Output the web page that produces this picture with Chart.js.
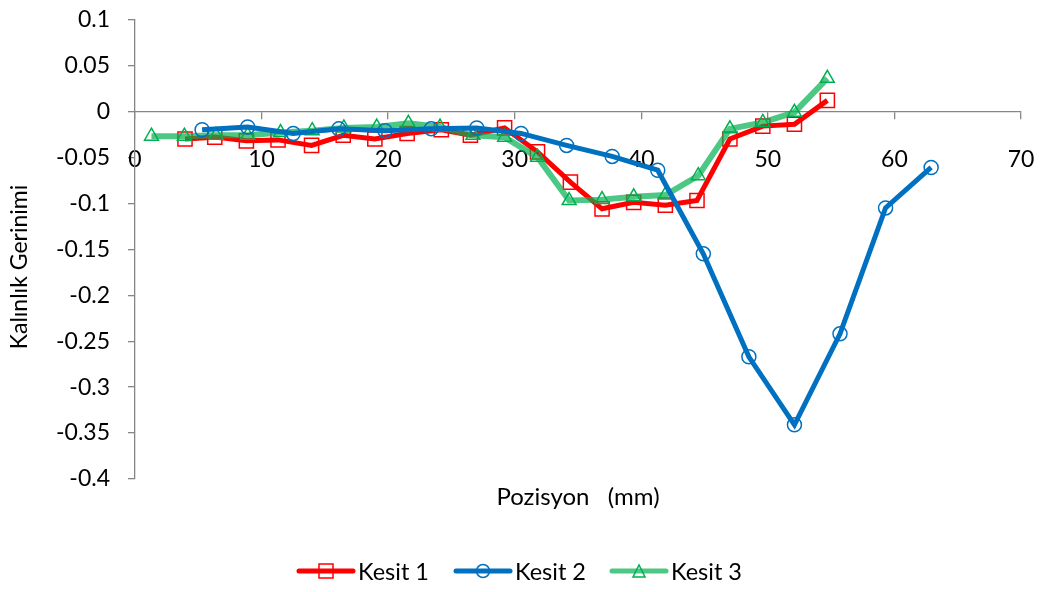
<!DOCTYPE html>
<html>
<head>
<meta charset="utf-8">
<script src="https://cdn.jsdelivr.net/npm/chart.js@4.4.1/dist/chart.umd.min.js"></script>
<style>
  html, body { margin: 0; padding: 0; background: #fff; }
  #wrap { width: 1043px; height: 592px; position: relative; }
</style>
</head>
<body>
<div id="wrap"><canvas id="diagramm" width="1043" height="592"></canvas></div>
<script>
// Kesit 1 (rot, Quadrate)
const kesit1X = [3.95, 6.3, 8.8, 11.3, 13.95, 16.45, 18.95, 21.5, 24.2, 26.5, 29.2, 31.8, 34.4, 36.9, 39.4, 41.9, 44.4, 47.0, 49.6, 52.1, 54.7];
const kesit1Y = [-0.030, -0.028, -0.032, -0.031, -0.037, -0.026, -0.030, -0.024, -0.020, -0.026, -0.018, -0.044, -0.077, -0.106, -0.099, -0.102, -0.097, -0.030, -0.016, -0.014, 0.012];

// Kesit 2 (blau, Kreise)
const kesit2X = [5.3, 8.9, 12.5, 16.1, 19.75, 23.4, 27.0, 30.5, 34.1, 37.7, 41.3, 44.9, 48.5, 52.1, 55.7, 59.3, 62.9];
const kesit2Y = [-0.020, -0.017, -0.024, -0.019, -0.021, -0.019, -0.018, -0.024, -0.037, -0.049, -0.064, -0.155, -0.267, -0.341, -0.242, -0.105, -0.061];

// Kesit 3 (grün, Dreiecke)
const kesit3X = [1.3, 3.9, 6.4, 8.9, 11.5, 14.0, 16.5, 19.1, 21.6, 24.1, 26.7, 29.2, 31.8, 34.3, 36.9, 39.4, 41.9, 44.5, 47.0, 49.6, 52.1, 54.7];
const kesit3Y = [-0.027, -0.027, -0.026, -0.026, -0.023, -0.021, -0.018, -0.017, -0.013, -0.017, -0.026, -0.028, -0.050, -0.097, -0.096, -0.093, -0.091, -0.070, -0.019, -0.012, -0.001, 0.036];

const seriesNames = ["Kesit 1", "Kesit 2", "Kesit 3"];
const xTitle = "Pozisyon   (mm)";
const yTitle = "Kalınlık Gerinimi";

const fontFam = "Lato, 'Open Sans', sans-serif";
const axisGrey = '#868686';

function toPoints(xs, ys) {
    return xs.map((x, i) => ({ x: x, y: ys[i] }));
}

// Achsentitel und Legende selbst zeichnen
const extras = {
    id: 'extras',
    afterDraw(chart) {
        const ctx = chart.ctx;
        const area = chart.chartArea;
        ctx.save();
        ctx.fillStyle = '#000';
        ctx.font = '24px ' + fontFam;
        ctx.textAlign = 'center';
        ctx.textBaseline = 'middle';
        ctx.fillText(xTitle, (area.left + area.right) / 2, 497);

        ctx.save();
        ctx.translate(20, 267);
        ctx.rotate(-Math.PI / 2);
        ctx.font = '23px ' + fontFam;
        ctx.fillText(yTitle, 0, 0);
        ctx.restore();

        // Legende
        const legY = 571;
        const items = [
            { x0: 299, col: '#ff0000', mark: 'rect' },
            { x0: 456, col: '#0070c0', mark: 'circle' },
            { x0: 612, col: 'rgba(0,176,80,0.7)', markCol: '#00b050', mark: 'triangle' }
        ];
        items.forEach((it, i) => {
            ctx.strokeStyle = it.col;
            ctx.lineWidth = 5;
            ctx.lineCap = 'round';
            ctx.beginPath();
            ctx.moveTo(it.x0, legY);
            ctx.lineTo(it.x0 + 54, legY);
            ctx.stroke();
            const cx = it.x0 + 27;
            ctx.lineWidth = 1.5;
            ctx.lineCap = 'butt';
            ctx.strokeStyle = it.markCol || it.col;
            ctx.beginPath();
            if (it.mark === 'rect') {
                ctx.rect(cx - 7, legY - 7, 14, 14);
            } else if (it.mark === 'circle') {
                ctx.arc(cx, legY, 6.5, 0, Math.PI * 2);
            } else {
                ctx.moveTo(cx - 6, legY + 6);
                ctx.lineTo(cx + 6, legY + 6);
                ctx.lineTo(cx, legY - 6);
                ctx.closePath();
            }
            ctx.stroke();
            ctx.fillStyle = '#000';
            ctx.font = '23.5px ' + fontFam;
            ctx.textAlign = 'left';
            ctx.fillText(seriesNames[i], it.x0 + 59, legY + 1);
        });
        ctx.restore();
    }
};

const MyChart = document.getElementById('diagramm').getContext('2d');
new Chart(MyChart, {
    type: 'scatter',
    data: {
        datasets: [
            {
                label: seriesNames[0],
                data: toPoints(kesit1X, kesit1Y),
                showLine: true,
                borderColor: '#ff0000',
                borderWidth: 5,
                pointStyle: 'rect',
                pointRadius: 10,
                pointBorderWidth: 1.5,
                pointBorderColor: '#ff0000',
                pointBackgroundColor: 'rgba(0,0,0,0)',
                order: 3
            },
            {
                label: seriesNames[1],
                data: toPoints(kesit2X, kesit2Y),
                showLine: true,
                borderColor: '#0070c0',
                borderWidth: 5,
                pointStyle: 'circle',
                pointRadius: 7,
                pointBorderWidth: 1.5,
                pointBorderColor: '#0070c0',
                pointBackgroundColor: 'rgba(0,0,0,0)',
                order: 1
            },
            {
                label: seriesNames[2],
                data: toPoints(kesit3X, kesit3Y),
                showLine: true,
                borderColor: 'rgba(0,176,80,0.7)',
                borderWidth: 6,
                pointStyle: 'triangle',
                pointRadius: 8,
                pointBorderWidth: 1.5,
                pointBorderColor: '#00b050',
                pointBackgroundColor: 'rgba(0,0,0,0)',
                order: 2
            }
        ]
    },
    options: {
        responsive: false,
        animation: false,
        events: [],
        layout: {
            padding: { top: 19.5, right: 22, bottom: 113, left: 0 }
        },
        scales: {
            x: {
                type: 'linear',
                position: { y: 0 },
                min: 0,
                max: 70,
                border: { color: axisGrey, width: 1.3 },
                grid: { drawOnChartArea: false, color: axisGrey, tickLength: 7, lineWidth: 1.3 },
                ticks: {
                    stepSize: 10,
                    padding: 27,
                    color: '#000',
                    font: { family: fontFam, size: 23 }
                },
                afterFit: function(scale) {
                    scale.paddingLeft = 0;
                    scale.paddingRight = 0;
                    scale.paddingTop = 0;
                    scale.paddingBottom = 0;
                }
            },
            y: {
                min: -0.4,
                max: 0.1,
                border: { color: axisGrey, width: 1.3 },
                grid: { drawOnChartArea: false, color: axisGrey, tickLength: 7, lineWidth: 1.3 },
                ticks: {
                    stepSize: 0.05,
                    padding: 18,
                    color: '#000',
                    font: { family: fontFam, size: 23 },
                    callback: function(value) {
                        return String(parseFloat(value.toFixed(2)));
                    }
                },
                afterFit: function(scale) {
                    scale.width = 135;
                    scale.paddingTop = 0;
                    scale.paddingBottom = 0;
                }
            }
        },
        plugins: {
            legend: { display: false },
            tooltip: { enabled: false }
        }
    },
    plugins: [extras]
});
</script>
</body>
</html>
